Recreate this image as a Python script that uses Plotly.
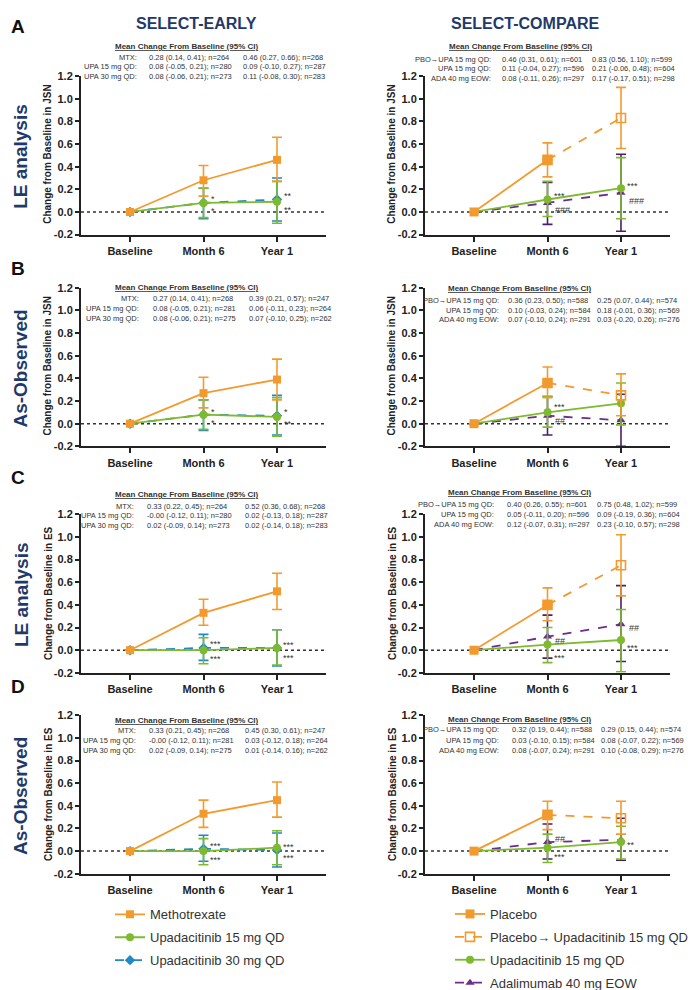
import plotly.graph_objects as go

W, H = 700, 990
FONT = "Arial, 'Liberation Sans', sans-serif"
NAVY = "#1f3a6a"
ORANGE = "#f39a2e"
GREEN = "#7dba2f"
BLUE = "#1e88c8"
PURPLE = "#6b2d8f"
TXT = "#333333"

timepoints = ["Baseline", "Month 6", "Year 1"]
x_pos = [0, 1, 2]
y_ticks = [-0.2, 0.0, 0.2, 0.4, 0.6, 0.8, 1.0, 1.2]

# (mean, lower 95% CI, upper 95% CI, n) at Month 6 and Year 1
# ---- SELECT-EARLY ----
A_L_MTX = [(0.28, 0.14, 0.41, 264), (0.46, 0.27, 0.66, 268)]
A_L_U15 = [(0.08, -0.05, 0.21, 280), (0.09, -0.10, 0.27, 287)]
A_L_U30 = [(0.08, -0.06, 0.21, 273), (0.11, -0.08, 0.30, 283)]
B_L_MTX = [(0.27, 0.14, 0.41, 268), (0.39, 0.21, 0.57, 247)]
B_L_U15 = [(0.08, -0.05, 0.21, 281), (0.06, -0.11, 0.23, 264)]
B_L_U30 = [(0.08, -0.06, 0.21, 275), (0.07, -0.10, 0.25, 262)]
C_L_MTX = [(0.33, 0.22, 0.45, 264), (0.52, 0.36, 0.68, 268)]
C_L_U15 = [(-0.0, -0.12, 0.11, 280), (0.02, -0.13, 0.18, 287)]
C_L_U30 = [(0.02, -0.09, 0.14, 273), (0.02, -0.14, 0.18, 283)]
D_L_MTX = [(0.33, 0.21, 0.45, 268), (0.45, 0.30, 0.61, 247)]
D_L_U15 = [(-0.0, -0.12, 0.11, 281), (0.03, -0.12, 0.18, 264)]
D_L_U30 = [(0.02, -0.09, 0.14, 275), (0.01, -0.14, 0.16, 262)]
# ---- SELECT-COMPARE ----
A_R_PBO = [(0.46, 0.31, 0.61, 601), (0.83, 0.56, 1.10, 599)]
A_R_U15 = [(0.11, -0.04, 0.27, 596), (0.21, -0.06, 0.48, 604)]
A_R_ADA = [(0.08, -0.11, 0.26, 297), (0.17, -0.17, 0.51, 298)]
B_R_PBO = [(0.36, 0.23, 0.50, 588), (0.25, 0.07, 0.44, 574)]
B_R_U15 = [(0.10, -0.03, 0.24, 584), (0.18, -0.01, 0.36, 569)]
B_R_ADA = [(0.07, -0.10, 0.24, 291), (0.03, -0.20, 0.26, 276)]
C_R_PBO = [(0.40, 0.26, 0.55, 601), (0.75, 0.48, 1.02, 599)]
C_R_U15 = [(0.05, -0.11, 0.20, 596), (0.09, -0.19, 0.36, 604)]
C_R_ADA = [(0.12, -0.07, 0.31, 297), (0.23, -0.10, 0.57, 298)]
D_R_PBO = [(0.32, 0.19, 0.44, 588), (0.29, 0.15, 0.44, 574)]
D_R_U15 = [(0.03, -0.10, 0.15, 584), (0.08, -0.07, 0.22, 569)]
D_R_ADA = [(0.08, -0.07, 0.24, 291), (0.10, -0.08, 0.29, 276)]

left_labels = ["MTX:", "UPA 15 mg QD:", "UPA 30 mg QD:"]
right_labels = ["PBO\u2192UPA 15 mg QD:", "UPA 15 mg QD:", "ADA 40 mg EOW:"]
panel_letters = ["A", "B", "C", "D"]
row_titles = ["LE analysis", "As-Observed", "LE analysis", "As-Observed"]
y_titles = ["Change from Baseline in JSN", "Change from Baseline in JSN",
            "Change from Baseline in ES", "Change from Baseline in ES"]
study_titles = ["SELECT-EARLY", "SELECT-COMPARE"]

# significance markers: (x position, y value, text)
A_L_SIG = [(1.07, 0.11, "*"), (1.07, 0.01, "*"), (2.07, 0.145, "**"), (2.07, 0.02, "**")]
A_R_SIG = [(1.06, 0.145, "***"), (1.08, 0.015, "###"), (2.06, 0.225, "***"), (2.08, 0.095, "###")]
B_L_SIG = [(1.07, 0.105, "*"), (1.07, 0.01, "*"), (2.07, 0.105, "*"), (2.07, 0.0, "**")]
B_R_SIG = [(1.06, 0.145, "***"), (1.08, 0.02, "##")]
C_L_SIG = [(1.06, 0.055, "***"), (1.06, -0.075, "***"), (2.06, 0.045, "***"), (2.06, -0.065, "***")]
C_R_SIG = [(1.08, 0.085, "##"), (1.06, -0.065, "***"), (2.08, 0.195, "##"), (2.06, 0.02, "***")]
D_L_SIG = [(1.06, 0.045, "***"), (1.06, -0.075, "***"), (2.06, 0.035, "***"), (2.06, -0.06, "***")]
D_R_SIG = [(1.08, 0.105, "##"), (1.06, -0.05, "***"), (2.06, 0.05, "**")]

left_panels = [(A_L_MTX, A_L_U15, A_L_U30, A_L_SIG), (B_L_MTX, B_L_U15, B_L_U30, B_L_SIG),
               (C_L_MTX, C_L_U15, C_L_U30, C_L_SIG), (D_L_MTX, D_L_U15, D_L_U30, D_L_SIG)]
right_panels = [(A_R_PBO, A_R_U15, A_R_ADA, A_R_SIG), (B_R_PBO, B_R_U15, B_R_ADA, B_R_SIG),
                (C_R_PBO, C_R_U15, C_R_ADA, C_R_SIG), (D_R_PBO, D_R_U15, D_R_ADA, D_R_SIG)]

# ---------- layout geometry (pixels) ----------
row_top = [63, 278, 508, 712]
plot_h = 161
col_px = [(73, 318), (417, 662)]
# text block geometry: header centre x, header y, label right x, col1 x, col2 x, row ys
blocks = {
    (0, 0): (178, 33, 131, 139, 233, [44, 53.5, 63.5]),
    (0, 1): (512, 33, 485, 492, 582, [46, 55.5, 65]),
    (1, 0): (178, 278, 133, 143, 239, [289, 299, 309]),
    (1, 1): (511, 279, 493, 498, 587, [291, 301, 310]),
    (2, 0): (178, 488, 128, 137, 235, [500, 509.5, 519]),
    (2, 1): (511, 486, 488, 497, 587, [498, 508.5, 518]),
    (3, 0): (178, 717, 130, 139, 235, [728, 738, 748]),
    (3, 1): (511, 716, 493, 502, 591, [727, 737.5, 748]),
}


def px(x):
    return x / W


def py(y):
    return 1 - y / H


def fmt(t):
    m, lo, hi, n = t
    return f"{m:.2f} ({lo:.2f}, {hi:.2f}); n={n}"


fig = go.Figure()
annotations = []
shapes = []


def err(series, include_base=True):
    plus = ([None] if include_base else []) + [round(s[2] - s[0], 4) for s in series]
    minus = ([None] if include_base else []) + [round(s[0] - s[1], 4) for s in series]
    return plus, minus


def line_trace(xs, ys, plus, minus, color, dash, symbol, size, name, xa, ya,
               showlegend, legend, rank, group, ecolor=None, mline=None):
    marker = dict(symbol=symbol, size=size, color=color)
    if mline:
        marker["line"] = dict(color=color, width=mline)
    return go.Scatter(
        x=xs, y=ys, mode="lines+markers", name=name,
        line=dict(color=color, width=1.8, dash=dash),
        marker=marker,
        error_y=dict(type="data", array=plus, arrayminus=minus, symmetric=False,
                     color=ecolor or color, thickness=1.6, width=5),
        xaxis=xa, yaxis=ya, showlegend=showlegend, legend=legend,
        legendrank=rank, legendgroup=group, cliponaxis=False,
    )


for r in range(4):
    for c in range(2):
        k = r * 2 + c
        suf = "" if k == 0 else str(k + 1)
        xa, ya = "x" + suf, "y" + suf
        x0, x1 = col_px[c]
        top = row_top[r]
        fig.layout["xaxis" + suf] = dict(
            domain=[px(x0), px(x1)], range=[-0.667, 2.667], anchor=ya,
            tickvals=x_pos, ticktext=timepoints, showline=True, linecolor="#222",
            linewidth=2, ticks="outside", ticklen=5, tickwidth=2, tickcolor="#222",
            tickfont=dict(family=FONT, size=11, color="#222", weight="bold"),
            showgrid=False, zeroline=False, fixedrange=True)
        fig.layout["yaxis" + suf] = dict(
            domain=[py(top + plot_h), py(top)], range=[-0.2, 1.2], anchor=xa,
            tickvals=y_ticks, ticktext=[f"{v:.1f}" for v in y_ticks], showline=True,
            linecolor="#222", linewidth=2, ticks="outside", ticklen=4, tickwidth=2,
            tickcolor="#222", tickfont=dict(family=FONT, size=11, color="#222", weight="bold"),
            showgrid=False, zeroline=False, fixedrange=True)
        shapes.append(dict(type="line", xref=f"{xa} domain", yref=ya, x0=0, x1=1, y0=0, y1=0,
                           line=dict(color="#333", width=1.5, dash="dot"), layer="below"))
        first = (r == 0)
        if c == 0:
            mtx, u15, u30, sig = left_panels[r]
            labels = left_labels
            series = [mtx, u15, u30]
            p, m = err(u30)
            fig.add_trace(line_trace(x_pos, [0] + [s[0] for s in u30], p, m, BLUE, "dash",
                                     "diamond", 8, "Upadacitinib 30 mg QD", xa, ya, first,
                                     "legend", 3, "u30"))
            p, m = err(u15)
            fig.add_trace(line_trace(x_pos, [0] + [s[0] for s in u15], p, m, GREEN, "solid",
                                     "circle", 8, "Upadacitinib 15 mg QD", xa, ya, first,
                                     "legend", 2, "u15"))
            p, m = err(mtx)
            fig.add_trace(line_trace(x_pos, [0] + [s[0] for s in mtx], p, m, ORANGE, "solid",
                                     "square", 8, "Methotrexate", xa, ya, first,
                                     "legend", 1, "mtx"))
        else:
            pbo, u15, ada, sig = right_panels[r]
            labels = right_labels
            series = [pbo, u15, ada]
            p, m = err(ada)
            fig.add_trace(line_trace(x_pos, [0] + [s[0] for s in ada], p, m, PURPLE, "dash",
                                     "triangle-up", 8, "Adalimumab 40 mg EOW", xa, ya, first,
                                     "legend2", 4, "ada", ecolor="#4a1f66"))
            p, m = err(u15)
            fig.add_trace(line_trace(x_pos, [0] + [s[0] for s in u15], p, m, GREEN, "solid",
                                     "circle", 8, "Upadacitinib 15 mg QD", xa, ya, first,
                                     "legend2", 3, "u15r"))
            # placebo -> upadacitinib switch (Month 6 to Year 1)
            p, m = err(pbo[1:], include_base=False)
            fig.add_trace(line_trace([1, 2], [pbo[0][0], pbo[1][0]], [None] + p, [None] + m,
                                     ORANGE, "dash", "square-open", 9,
                                     "Placebo\u2192 Upadacitinib 15 mg QD", xa, ya, first,
                                     "legend2", 2, "swt", mline=1.6))
            # placebo (Baseline to Month 6)
            p, m = err(pbo[:1])
            fig.add_trace(line_trace([0, 1], [0, pbo[0][0]], p, m, ORANGE, "solid",
                                     "square", 9, "Placebo", xa, ya, first,
                                     "legend2", 1, "pbo"))
        # significance markers
        for sx, sy, st in sig:
            annotations.append(dict(x=sx, y=sy, xref=xa, yref=ya, text=st, showarrow=False,
                                    xanchor="left", yanchor="middle",
                                    font=dict(family=FONT, size=9, color=TXT)))
        # mean change text block
        hx, hy, lx, c1, c2, rys = blocks[(r, c)]
        annotations.append(dict(x=px(hx), y=py(hy), xref="paper", yref="paper",
                                text="<u><b>Mean Change From Baseline (95% CI)</b></u>",
                                showarrow=False, xanchor="center", yanchor="middle",
                                font=dict(family=FONT, size=8, color=TXT)))
        for lab, s, ry in zip(labels, series, rys):
            annotations.append(dict(x=px(lx), y=py(ry), xref="paper", yref="paper", text=lab,
                                    showarrow=False, xanchor="right", yanchor="middle",
                                    font=dict(family=FONT, size=7.5, color=TXT)))
            annotations.append(dict(x=px(c1), y=py(ry), xref="paper", yref="paper",
                                    text=fmt(s[0]), showarrow=False, xanchor="left",
                                    yanchor="middle", font=dict(family=FONT, size=7.5, color=TXT)))
            annotations.append(dict(x=px(c2), y=py(ry), xref="paper", yref="paper",
                                    text=fmt(s[1]), showarrow=False, xanchor="left",
                                    yanchor="middle", font=dict(family=FONT, size=7.5, color=TXT)))
        # y-axis title
        annotations.append(dict(x=px(x0 - 33), y=py(top + 80), xref="paper", yref="paper",
                                text=f"<b>{y_titles[r]}</b>", textangle=-90, showarrow=False,
                                xanchor="center", yanchor="middle",
                                font=dict(family=FONT, size=10, color="#222")))

# panel letters and row titles
letter_y = [13, 258, 471, 683]
for r in range(4):
    annotations.append(dict(x=px(10), y=py(letter_y[r]), xref="paper", yref="paper",
                            text=f"<b>{panel_letters[r]}</b>", showarrow=False,
                            xanchor="center", yanchor="middle",
                            font=dict(family=FONT, size=19, color="#111")))
    annotations.append(dict(x=px(13), y=py(row_top[r] + 82), xref="paper", yref="paper",
                            text=f"<b>{row_titles[r]}</b>", textangle=-90, showarrow=False,
                            xanchor="center", yanchor="middle",
                            font=dict(family=FONT, size=19, color=NAVY)))
# study titles
for cx, t in zip([188, 517], study_titles):
    annotations.append(dict(x=px(cx), y=py(10), xref="paper", yref="paper",
                            text=f"<b>{t}</b>", showarrow=False, xanchor="center",
                            yanchor="middle", font=dict(family=FONT, size=16, color=NAVY)))

fig.update_layout(
    width=W, height=H, margin=dict(l=0, r=0, t=0, b=0),
    paper_bgcolor="white", plot_bgcolor="white",
    annotations=annotations, shapes=shapes,
    legend=dict(x=px(102), y=py(899), xanchor="left", yanchor="top",
                font=dict(family=FONT, size=13, color=TXT), bgcolor="rgba(0,0,0,0)",
                tracegroupgap=3, itemwidth=30),
    legend2=dict(x=px(442), y=py(899), xanchor="left", yanchor="top",
                 font=dict(family=FONT, size=13, color=TXT), bgcolor="rgba(0,0,0,0)",
                 tracegroupgap=3, itemwidth=30),
    showlegend=True,
)

fig.write_html("out.html")
